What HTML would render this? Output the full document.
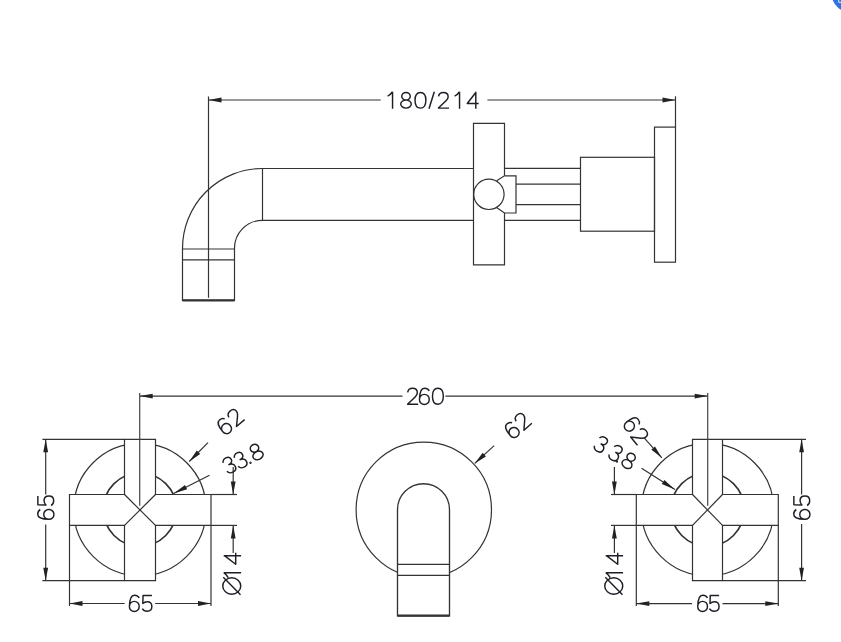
<!DOCTYPE html>
<html><head><meta charset="utf-8"><style>
html,body{margin:0;padding:0;background:#fff;width:841px;height:642px;overflow:hidden}
svg{display:block}
text{font-family:"Liberation Sans",sans-serif;font-size:24px;fill:#1c1c24;stroke:#fff;stroke-width:0.4px}
</style></head><body>
<svg width="841" height="642" viewBox="0 0 841 642">
<g fill="none" stroke="#333" stroke-width="1.2">
<line x1="208.5" y1="100.0" x2="380.8" y2="100.0"/>
<line x1="487.4" y1="100.0" x2="675.5" y2="100.0"/>
<line x1="208.5" y1="96.5" x2="208.5" y2="297.8"/>
<line x1="675.5" y1="96.3" x2="675.5" y2="127.1"/>
<path d="M473.5 168.5 H262.5 A80 80 0 0 0 182.5 248.8 V300.3 H234.5 V248.8 A28 28 0 0 1 262.5 220.3 H473.5"/>
<line x1="262.5" y1="168.5" x2="262.5" y2="220.3"/>
<line x1="182.5" y1="249" x2="234.5" y2="249"/>
<line x1="182.5" y1="259.8" x2="234.5" y2="259.8"/>
<line x1="182.5" y1="300.3" x2="234.5" y2="300.3" stroke-width="2.2"/>
<path d="M504.5 175.8 V123.4 H473.5 V264.9 H504.5 V213"/>
<circle cx="488.9" cy="194.3" r="15.2"/>
<path d="M496.6 180.7 L504.5 175.8 H516 V213 H504.5 L496.9 207.8"/>
<line x1="504.5" y1="168.4" x2="580.5" y2="168.4"/>
<line x1="504.5" y1="220.4" x2="580.5" y2="220.4"/>
<line x1="516" y1="184.1" x2="580.5" y2="184.1"/>
<line x1="516" y1="204.6" x2="580.5" y2="204.6"/>
<rect x="580.5" y="157.3" width="74" height="73.9"/>
<rect x="654.5" y="127.1" width="21" height="135.1"/>
<line x1="139.7" y1="396.1" x2="402.5" y2="396.1"/>
<line x1="445.4" y1="396.1" x2="707.7" y2="396.1"/>
<circle cx="139.9" cy="509.6" r="66.2"/>
<circle cx="139.9" cy="509.6" r="36.6" stroke-width="1.7"/>
<path fill="#fff" d="M124.5 439.3 H155.5 V494.5 H211.0 V525.4 H155.5 V580.7 H124.5 V525.4 H69.5 V494.5 H124.5 Z"/>
<line x1="124.5" y1="494.5" x2="155.5" y2="525.4"/>
<line x1="155.5" y1="494.5" x2="124.5" y2="525.4"/>
<line x1="139.7" y1="393" x2="139.7" y2="505.8" stroke="#444"/>
<line x1="42.4" y1="439.3" x2="124.5" y2="439.3"/>
<line x1="42.4" y1="580.7" x2="124.5" y2="580.7"/>
<line x1="45.7" y1="439.3" x2="45.7" y2="494.5"/>
<line x1="45.7" y1="524.6" x2="45.7" y2="580.7"/>
<line x1="69.5" y1="525.4" x2="69.5" y2="606"/>
<line x1="211.0" y1="525.4" x2="211.0" y2="606"/>
<line x1="69.5" y1="603.5" x2="124.7" y2="603.5"/>
<line x1="155.1" y1="603.5" x2="211.0" y2="603.5"/>
<line x1="211.0" y1="494.5" x2="237" y2="494.5"/>
<line x1="211.0" y1="525.4" x2="237" y2="525.4"/>
<line x1="233.2" y1="467" x2="233.2" y2="494.5"/>
<line x1="233.2" y1="525.4" x2="233.2" y2="553"/>
<line x1="208.0" y1="442.6" x2="189.3" y2="461.5"/>
<line x1="209.5" y1="475.3" x2="173.6" y2="493.5"/>
<circle cx="423.8" cy="509.8" r="67.7"/>
<path fill="#fff" d="M397.5 615.8 V509.7 A26 26 0 0 1 449.5 509.7 V615.8 Z" stroke-width="1.35"/>
<line x1="397.5" y1="564.3" x2="449.5" y2="564.3"/>
<line x1="397.5" y1="575.3" x2="449.5" y2="575.3"/>
<line x1="397.5" y1="615.6" x2="449.5" y2="615.6" stroke-width="2.2"/>
<line x1="494.2" y1="445.6" x2="474.7" y2="463.4"/>
<circle cx="707.6" cy="509.6" r="66.2"/>
<circle cx="707.6" cy="509.6" r="36.6" stroke-width="1.7"/>
<path fill="#fff" d="M692.5 439.3 H722.5 V494.5 H778.3 V525.4 H722.5 V580.7 H692.5 V525.4 H636.3 V494.5 H692.5 Z"/>
<line x1="692.5" y1="494.5" x2="722.5" y2="525.4"/>
<line x1="722.5" y1="494.5" x2="692.5" y2="525.4"/>
<line x1="707.7" y1="393" x2="707.7" y2="505.8" stroke="#444"/>
<line x1="722.5" y1="439.3" x2="806" y2="439.3"/>
<line x1="722.5" y1="580.7" x2="806" y2="580.7"/>
<line x1="801.6" y1="439.3" x2="801.6" y2="494.5"/>
<line x1="801.6" y1="524" x2="801.6" y2="580.7"/>
<line x1="636.3" y1="525.4" x2="636.3" y2="606"/>
<line x1="778.3" y1="525.4" x2="778.3" y2="606"/>
<line x1="636.3" y1="603.6" x2="692" y2="603.6"/>
<line x1="722.5" y1="603.6" x2="778.3" y2="603.6"/>
<line x1="611" y1="494.5" x2="636.3" y2="494.5"/>
<line x1="611" y1="525.4" x2="636.3" y2="525.4"/>
<line x1="614.4" y1="467" x2="614.4" y2="494.5"/>
<line x1="614.4" y1="525.4" x2="614.4" y2="553"/>
<line x1="644.4" y1="438.2" x2="661.8" y2="457.8"/>
<line x1="641.6" y1="468.2" x2="674.9" y2="489.5"/>
</g>
<g fill="#222" stroke="none">
<polygon points="208.50,100.00 221.50,97.60 221.50,102.40"/>
<polygon points="675.50,100.00 662.50,102.40 662.50,97.60"/>
<polygon points="139.70,396.10 152.70,393.70 152.70,398.50"/>
<polygon points="707.70,396.10 694.70,398.50 694.70,393.70"/>
<polygon points="45.70,439.30 48.10,452.30 43.30,452.30"/>
<polygon points="45.70,580.70 43.30,567.70 48.10,567.70"/>
<polygon points="69.50,603.50 82.50,601.10 82.50,605.90"/>
<polygon points="211.00,603.50 198.00,605.90 198.00,601.10"/>
<polygon points="233.20,494.50 230.80,481.50 235.60,481.50"/>
<polygon points="233.20,525.40 235.60,538.40 230.80,538.40"/>
<polygon points="189.30,461.50 196.74,450.57 200.15,453.95"/>
<polygon points="173.60,493.50 185.00,485.03 187.17,489.31"/>
<polygon points="474.70,463.40 482.68,452.86 485.92,456.41"/>
<polygon points="801.60,439.30 804.00,452.30 799.20,452.30"/>
<polygon points="801.60,580.70 799.20,567.70 804.00,567.70"/>
<polygon points="636.30,603.60 649.30,601.20 649.30,606.00"/>
<polygon points="778.30,603.60 765.30,606.00 765.30,601.20"/>
<polygon points="614.40,494.50 612.00,481.50 616.80,481.50"/>
<polygon points="614.40,525.40 616.80,538.40 612.00,538.40"/>
<polygon points="661.80,457.80 651.37,449.67 654.96,446.48"/>
<polygon points="674.90,489.50 661.81,483.98 664.40,479.93"/>
</g>
<g fill="none" stroke="#1e1e26" stroke-width="1.45" stroke-linejoin="round">
<path transform="translate(387 108.8) scale(1 0.98)" d="M0.6 -12.9 Q3.6 -14.4 5.55 -17.4 M5.55 -17.4 V0"/>
<path transform="translate(400 108.8) scale(1 0.98)" d="M1.75 -12.80 A4.25 3.88 0 1 0 10.25 -12.80 A4.25 3.88 0 1 0 1.75 -12.80ZM0.72 -4.80 A5.28 4.08 0 1 0 11.28 -4.80 A5.28 4.08 0 1 0 0.72 -4.80Z"/>
<path transform="translate(414.3 108.8) scale(1 0.98)" d="M6.15 -16.67 C9.51 -16.67 11.58 -13.64 11.58 -8.70 C11.58 -3.76 9.51 -0.72 6.15 -0.72 C2.79 -0.72 0.72 -3.76 0.72 -8.70 C0.72 -13.64 2.79 -16.67 6.15 -16.67Z"/>
<path transform="translate(428.3 108.8) scale(1 0.98)" d="M0.7 0 L6.0 -17.4"/>
<path transform="translate(437.6 108.8) scale(1 0.98)" d="M0.95 -12.6 C1.3 -15.3 3.3 -16.674999999999997 5.75 -16.674999999999997 C8.6 -16.674999999999997 10.55 -14.9 10.55 -12.3 C10.55 -10.6 9.7 -9.4 8.4 -8.1 L0.8 -0.725 H11.4"/>
<path transform="translate(454 108.8) scale(1 0.98)" d="M0.6 -12.9 Q3.6 -14.4 5.55 -17.4 M5.55 -17.4 V0"/>
<path transform="translate(466.5 108.8) scale(1 0.98)" d="M9.3 0 V-17.4 M9.3 -16.674999999999997 L0.725 -5.4 H12.2"/>
<path transform="translate(406.75 405) scale(1 1)" d="M0.95 -12.6 C1.3 -15.3 3.3 -16.674999999999997 5.75 -16.674999999999997 C8.6 -16.674999999999997 10.55 -14.9 10.55 -12.3 C10.55 -10.6 9.7 -9.4 8.4 -8.1 L0.8 -0.725 H11.4"/>
<path transform="translate(418.75 405) scale(1 1)" d="M10.5 -14.1 C9.6 -15.7 8.0 -16.674999999999997 5.8 -16.674999999999997 C2.6 -16.674999999999997 0.725 -12.6 0.725 -5.55 A4.88 4.83 0 1 0 10.47 -5.55 A4.88 4.83 0 1 0 0.725 -5.55"/>
<path transform="translate(431.75 405) scale(1 1)" d="M6.15 -16.67 C9.51 -16.67 11.58 -13.64 11.58 -8.70 C11.58 -3.76 9.51 -0.72 6.15 -0.72 C2.79 -0.72 0.72 -3.76 0.72 -8.70 C0.72 -13.64 2.79 -16.67 6.15 -16.67Z"/>
<path transform="translate(54.4 520) rotate(-90) translate(0 0)" d="M10.5 -14.1 C9.6 -15.7 8.0 -16.674999999999997 5.8 -16.674999999999997 C2.6 -16.674999999999997 0.725 -12.6 0.725 -5.55 A4.88 4.83 0 1 0 10.47 -5.55 A4.88 4.83 0 1 0 0.725 -5.55"/>
<path transform="translate(54.4 520) rotate(-90) translate(14 0)" d="M10.1 -16.55 H1.25 L1.0 -8.4 C2.2 -9.8 3.8 -10.35 5.45 -10.35 C8.3 -10.35 10.05 -8.3 10.05 -5.45 C10.05 -2.5 8.1 -0.725 5.35 -0.725 C3.1 -0.725 1.4 -1.7 0.5 -3.3"/>
<path transform="translate(128.7 612) scale(1 1)" d="M10.5 -14.1 C9.6 -15.7 8.0 -16.674999999999997 5.8 -16.674999999999997 C2.6 -16.674999999999997 0.725 -12.6 0.725 -5.55 A4.88 4.83 0 1 0 10.47 -5.55 A4.88 4.83 0 1 0 0.725 -5.55"/>
<path transform="translate(141.8 612) scale(1 1)" d="M10.1 -16.55 H1.25 L1.0 -8.4 C2.2 -9.8 3.8 -10.35 5.45 -10.35 C8.3 -10.35 10.05 -8.3 10.05 -5.45 C10.05 -2.5 8.1 -0.725 5.35 -0.725 C3.1 -0.725 1.4 -1.7 0.5 -3.3"/>
<path transform="translate(241.1 595) rotate(-90) translate(0 0)" d="M0.80 -9.35 A8.20 9.00 0 1 0 17.20 -9.35 A8.20 9.00 0 1 0 0.80 -9.35Z M0.3 -0.6 L17.7 -17.8"/>
<path transform="translate(241.1 595) rotate(-90) translate(16.8 0)" d="M0.6 -12.9 Q3.6 -14.4 5.55 -17.4 M5.55 -17.4 V0"/>
<path transform="translate(241.1 595) rotate(-90) translate(30 0)" d="M9.3 0 V-17.4 M9.3 -16.674999999999997 L0.725 -5.4 H12.2"/>
<path transform="translate(224.5 426.2) rotate(-40.3) translate(-5.60 8.7)" d="M10.5 -14.1 C9.6 -15.7 8.0 -16.674999999999997 5.8 -16.674999999999997 C2.6 -16.674999999999997 0.725 -12.6 0.725 -5.55 A4.88 4.83 0 1 0 10.47 -5.55 A4.88 4.83 0 1 0 0.725 -5.55"/>
<path transform="translate(235.1 417.2) rotate(-40.3) translate(-5.70 8.7)" d="M0.95 -12.6 C1.3 -15.3 3.3 -16.674999999999997 5.75 -16.674999999999997 C8.6 -16.674999999999997 10.55 -14.9 10.55 -12.3 C10.55 -10.6 9.7 -9.4 8.4 -8.1 L0.8 -0.725 H11.4"/>
<path transform="translate(229.4 465) rotate(-26) translate(-5.45 8.7)" d="M0.8 -13.3 C1.4 -15.6 3.2 -16.674999999999997 5.4 -16.674999999999997 C7.9 -16.674999999999997 9.6 -15.2 9.6 -12.9 C9.6 -10.6 7.8 -9.2 4.6 -9.2 M4.6 -9.2 C8.2 -9.2 10.15 -7.4 10.15 -4.9 C10.15 -2.3 8.2 -0.725 5.4 -0.725 C2.9 -0.725 1.1 -2 0.5 -4.1"/>
<path transform="translate(240.6 460) rotate(-26) translate(-5.45 8.7)" d="M0.8 -13.3 C1.4 -15.6 3.2 -16.674999999999997 5.4 -16.674999999999997 C7.9 -16.674999999999997 9.6 -15.2 9.6 -12.9 C9.6 -10.6 7.8 -9.2 4.6 -9.2 M4.6 -9.2 C8.2 -9.2 10.15 -7.4 10.15 -4.9 C10.15 -2.3 8.2 -0.725 5.4 -0.725 C2.9 -0.725 1.1 -2 0.5 -4.1"/>
<path transform="translate(247.2 456) rotate(-26) translate(-0.95 8.7)" d="M0.45 -1.2 A0.5 0.5 0 1 0 1.45 -1.2 A0.5 0.5 0 1 0 0.45 -1.2Z"/>
<path transform="translate(256.3 451.9) rotate(-26) translate(-6.00 8.7)" d="M1.75 -12.80 A4.25 3.88 0 1 0 10.25 -12.80 A4.25 3.88 0 1 0 1.75 -12.80ZM0.72 -4.80 A5.28 4.08 0 1 0 11.28 -4.80 A5.28 4.08 0 1 0 0.72 -4.80Z"/>
<path transform="translate(512 430.1) rotate(-41.5) translate(-5.60 8.7)" d="M10.5 -14.1 C9.6 -15.7 8.0 -16.674999999999997 5.8 -16.674999999999997 C2.6 -16.674999999999997 0.725 -12.6 0.725 -5.55 A4.88 4.83 0 1 0 10.47 -5.55 A4.88 4.83 0 1 0 0.725 -5.55"/>
<path transform="translate(522.3 421) rotate(-41.5) translate(-5.70 8.7)" d="M0.95 -12.6 C1.3 -15.3 3.3 -16.674999999999997 5.75 -16.674999999999997 C8.6 -16.674999999999997 10.55 -14.9 10.55 -12.3 C10.55 -10.6 9.7 -9.4 8.4 -8.1 L0.8 -0.725 H11.4"/>
<path transform="translate(810.4 520) rotate(-90) translate(0 0)" d="M10.5 -14.1 C9.6 -15.7 8.0 -16.674999999999997 5.8 -16.674999999999997 C2.6 -16.674999999999997 0.725 -12.6 0.725 -5.55 A4.88 4.83 0 1 0 10.47 -5.55 A4.88 4.83 0 1 0 0.725 -5.55"/>
<path transform="translate(810.4 520) rotate(-90) translate(14 0)" d="M10.1 -16.55 H1.25 L1.0 -8.4 C2.2 -9.8 3.8 -10.35 5.45 -10.35 C8.3 -10.35 10.05 -8.3 10.05 -5.45 C10.05 -2.5 8.1 -0.725 5.35 -0.725 C3.1 -0.725 1.4 -1.7 0.5 -3.3"/>
<path transform="translate(697 612) scale(1 1)" d="M10.5 -14.1 C9.6 -15.7 8.0 -16.674999999999997 5.8 -16.674999999999997 C2.6 -16.674999999999997 0.725 -12.6 0.725 -5.55 A4.88 4.83 0 1 0 10.47 -5.55 A4.88 4.83 0 1 0 0.725 -5.55"/>
<path transform="translate(709 612) scale(1 1)" d="M10.1 -16.55 H1.25 L1.0 -8.4 C2.2 -9.8 3.8 -10.35 5.45 -10.35 C8.3 -10.35 10.05 -8.3 10.05 -5.45 C10.05 -2.5 8.1 -0.725 5.35 -0.725 C3.1 -0.725 1.4 -1.7 0.5 -3.3"/>
<path transform="translate(623.1 595) rotate(-90) translate(0 0)" d="M0.80 -9.35 A8.20 9.00 0 1 0 17.20 -9.35 A8.20 9.00 0 1 0 0.80 -9.35Z M0.3 -0.6 L17.7 -17.8"/>
<path transform="translate(623.1 595) rotate(-90) translate(16.8 0)" d="M0.6 -12.9 Q3.6 -14.4 5.55 -17.4 M5.55 -17.4 V0"/>
<path transform="translate(623.1 595) rotate(-90) translate(30 0)" d="M9.3 0 V-17.4 M9.3 -16.674999999999997 L0.725 -5.4 H12.2"/>
<path transform="translate(631.8 424.1) rotate(50) translate(-5.60 8.7)" d="M10.5 -14.1 C9.6 -15.7 8.0 -16.674999999999997 5.8 -16.674999999999997 C2.6 -16.674999999999997 0.725 -12.6 0.725 -5.55 A4.88 4.83 0 1 0 10.47 -5.55 A4.88 4.83 0 1 0 0.725 -5.55"/>
<path transform="translate(639.9 435.7) rotate(50) translate(-5.70 8.7)" d="M0.95 -12.6 C1.3 -15.3 3.3 -16.674999999999997 5.75 -16.674999999999997 C8.6 -16.674999999999997 10.55 -14.9 10.55 -12.3 C10.55 -10.6 9.7 -9.4 8.4 -8.1 L0.8 -0.725 H11.4"/>
<path transform="translate(601.1 444.4) rotate(31) translate(-5.45 8.7)" d="M0.8 -13.3 C1.4 -15.6 3.2 -16.674999999999997 5.4 -16.674999999999997 C7.9 -16.674999999999997 9.6 -15.2 9.6 -12.9 C9.6 -10.6 7.8 -9.2 4.6 -9.2 M4.6 -9.2 C8.2 -9.2 10.15 -7.4 10.15 -4.9 C10.15 -2.3 8.2 -0.725 5.4 -0.725 C2.9 -0.725 1.1 -2 0.5 -4.1"/>
<path transform="translate(615.8 453.1) rotate(31) translate(-5.45 8.7)" d="M0.8 -13.3 C1.4 -15.6 3.2 -16.674999999999997 5.4 -16.674999999999997 C7.9 -16.674999999999997 9.6 -15.2 9.6 -12.9 C9.6 -10.6 7.8 -9.2 4.6 -9.2 M4.6 -9.2 C8.2 -9.2 10.15 -7.4 10.15 -4.9 C10.15 -2.3 8.2 -0.725 5.4 -0.725 C2.9 -0.725 1.1 -2 0.5 -4.1"/>
<path transform="translate(620.8 455) rotate(31) translate(-0.95 8.7)" d="M0.45 -1.2 A0.5 0.5 0 1 0 1.45 -1.2 A0.5 0.5 0 1 0 0.45 -1.2Z"/>
<path transform="translate(629 460.7) rotate(31) translate(-6.00 8.7)" d="M1.75 -12.80 A4.25 3.88 0 1 0 10.25 -12.80 A4.25 3.88 0 1 0 1.75 -12.80ZM0.72 -4.80 A5.28 4.08 0 1 0 11.28 -4.80 A5.28 4.08 0 1 0 0.72 -4.80Z"/>
</g>
<circle cx="851" cy="-7" r="19.6" fill="#3370e0"/>
<path d="M838.7 0 V2.3 H841" fill="none" stroke="#c8f4ff" stroke-width="1"/>
</svg>
</body></html>
